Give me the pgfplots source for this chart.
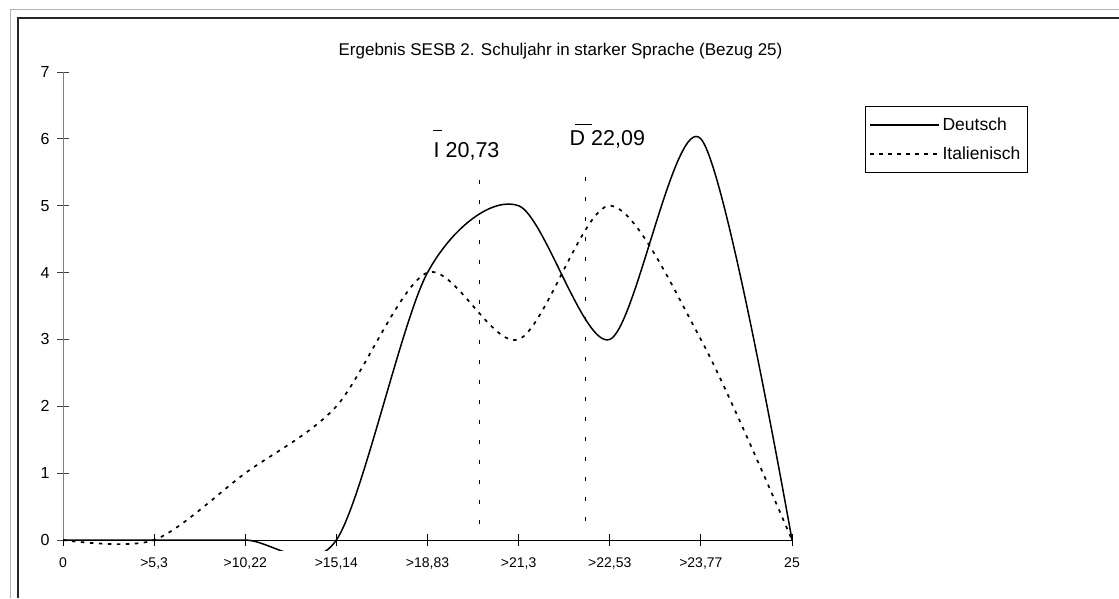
\documentclass[border=0pt]{standalone}
\usepackage{fontspec}
\setmainfont{Liberation Sans}
\usepackage{pgfplots}
\pgfplotsset{compat=1.18}
\begin{document}
\begin{tikzpicture}
\useasboundingbox (0pt,0pt) rectangle (1119pt,-598pt);
\fill[white] (0pt,0pt) rectangle (1119pt,-598pt);
% frames (cut off at right and bottom)
\draw[gray!60, line width=1.3pt] (10.5pt,-598pt) -- (10.5pt,-9.5pt) -- (1119pt,-9.5pt);
\draw[black!85, line width=1.3pt] (18pt,-598pt) -- (18pt,-18pt) -- (1119pt,-18pt);
% title
\node[anchor=base, inner sep=0pt, font=\fontsize{17}{20}\selectfont] at (560.5pt,-55.3pt) {Ergebnis SESB 2. Schuljahr in starker Sprache (Bezug 25)};
\begin{axis}[
  at={(63pt,-540pt)}, anchor=origin,
  x=91.125pt, y=66.857pt,
  xmin=0, xmax=8, ymin=-0.15, ymax=7,
  axis x line=middle, axis y line=left,
  axis line style={-},
  x axis line style={black, line width=1pt},
  y axis line style={gray, line width=1pt, shorten <=10.03pt},
  xtick={0,...,8},
  xticklabels={0,{>5,3},{>10,22},{>15,14},{>18,83},{>21,3},{>22,53},{>23,77},25},
  ytick={0,...,7},
  hide obscured x ticks=false, hide obscured y ticks=false,
  tick align=center, major tick length=12pt,
  x tick style={black, line width=1pt},
  y tick style={black!75, line width=1pt},
  /pgf/number format/assume math mode=true,
  xticklabel style={font=\fontsize{14}{16}\selectfont, yshift=-8pt},
  yticklabel style={font=\fontsize{16}{18}\selectfont, xshift=-4pt},
  legend style={at={(1.1001,0.9289)}, anchor=north west, draw=black, line width=0.8pt,
    font=\fontsize{17.5}{19}\selectfont, inner xsep=4pt, inner ysep=9pt, row sep=10pt,
    nodes={inner sep=2.5pt}},
  legend cell align=left,
  legend image code/.code={\draw[#1] (0pt,0pt) -- (69pt,0pt);},
]
\addplot[black, line width=1.5pt, smooth, tension=0.5]
  coordinates {(0,0) (1,0) (2,0) (3,0) (4,4) (5,5) (6,3) (7,6) (8,0)};
\addlegendentry{Deutsch}
\addplot[black, line width=1.7pt, smooth, tension=0.5, dash pattern=on 3.5pt off 5.5pt]
  coordinates {(0,0) (1,0) (2,1) (3,2) (4,4) (5,3) (6,5) (7,3) (8,0)};
\addlegendentry{Italienisch}
% mean lines
\addplot[forget plot, black, line width=0.9pt, dash pattern=on 4pt off 16pt]
  coordinates {(4.565,5.385) (4.565,0.075)};
\addplot[forget plot, black, line width=0.9pt, dash pattern=on 4pt off 16pt]
  coordinates {(5.728,5.43) (5.728,0.12)};
\end{axis}
% mean labels
\node[anchor=base west, inner sep=0pt, font=\fontsize{21.5}{24}\selectfont] at (433.5pt,-157pt) {I 20,73};
\draw[black, line width=1pt] (433.3pt,-130.5pt) -- (442.3pt,-130.5pt);
\node[anchor=base west, inner sep=0pt, font=\fontsize{21.5}{24}\selectfont] at (569.5pt,-145pt) {D 22,09};
\draw[black, line width=1pt] (575pt,-124pt) -- (592pt,-124pt);
\end{tikzpicture}
\end{document}
